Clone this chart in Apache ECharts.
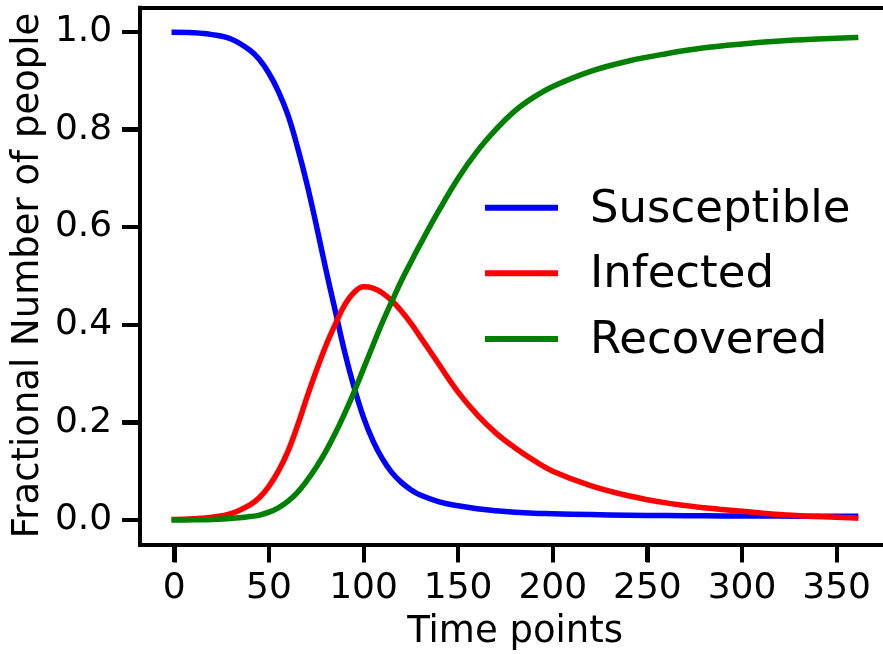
<!DOCTYPE html>
<html>
<head>
<meta charset="utf-8">
<script src="https://cdn.jsdelivr.net/npm/echarts@6/dist/echarts.min.js"></script>
<style>
  html, body { margin: 0; padding: 0; background: #ffffff; }
  #chart { width: 883px; height: 654px; }
</style>
</head>
<body>
<div id="chart"></div>
<script>
// SIR epidemic curves: fraction of the population in each compartment over time
const timePoints = [0, 10, 20, 30, 40, 45, 50, 55, 60, 65, 70, 75, 80, 85, 90, 95, 100, 105, 110, 115, 120, 125, 130, 140, 150, 160, 170, 180, 190, 200, 220, 240, 260, 280, 300, 320, 340, 360];
const susceptible = [0.999, 0.998, 0.994, 0.985, 0.962, 0.943, 0.915, 0.878, 0.83, 0.765, 0.69, 0.605, 0.515, 0.43, 0.345, 0.272, 0.21, 0.162, 0.125, 0.097, 0.077, 0.062, 0.051, 0.037, 0.029, 0.023, 0.019, 0.016, 0.014, 0.013, 0.011, 0.0098, 0.009, 0.0085, 0.0082, 0.008, 0.0078, 0.0077];
const infected = [0.001, 0.0025, 0.0055, 0.013, 0.031, 0.046, 0.069, 0.10, 0.14, 0.192, 0.25, 0.305, 0.356, 0.40, 0.44, 0.466, 0.4775, 0.475, 0.465, 0.449, 0.428, 0.403, 0.375, 0.318, 0.262, 0.216, 0.178, 0.148, 0.122, 0.10, 0.0705, 0.0497, 0.035, 0.025, 0.018, 0.011, 0.007, 0.004];
const recovered = [0, 0.0003, 0.001, 0.003, 0.007, 0.010, 0.016, 0.025, 0.038, 0.056, 0.08, 0.108, 0.14, 0.177, 0.218, 0.262, 0.31, 0.358, 0.405, 0.448, 0.49, 0.528, 0.565, 0.635, 0.70, 0.755, 0.80, 0.838, 0.866, 0.888, 0.919, 0.940, 0.955, 0.967, 0.975, 0.981, 0.985, 0.988];

const xTicks = [0, 50, 100, 150, 200, 250, 300, 350];
const yTicks = [0.0, 0.2, 0.4, 0.6, 0.8, 1.0];

const seriesNames = ['Susceptible', 'Infected', 'Recovered'];
const seriesColors = ['#0000ff', '#ff0000', '#008000'];
const seriesValues = [susceptible, infected, recovered];

const xTitle = 'Time points';
const yTitle = 'Fractional Number of people';

const FONT = 'DejaVu Sans';
const TICK_LEN = 18;
const TICK_WIDTH = 4;

function pairs(values) {
  return timePoints.map((t, i) => [t, values[i]]);
}

const spine = { show: true, onZero: false, lineStyle: { color: '#000000', width: 4, cap: 'square' } };
const tickStyle = { show: true, inside: false, length: TICK_LEN, lineStyle: { color: '#000000', width: TICK_WIDTH } };

// visible data window (the right frame edge lies just past the canvas)
const X_RANGE = [-18, 374.5];
const Y_RANGE = [-0.05, 1.049];

// axis titles
const titleGraphics = [
  {
    type: 'text',
    x: 515.1,
    y: 632.3,
    style: {
      text: xTitle,
      font: '37px "DejaVu Sans"',
      fill: '#000000',
      textAlign: 'center',
      textVerticalAlign: 'middle'
    }
  },
  {
    type: 'text',
    x: 28,
    y: 275.5,
    rotation: Math.PI / 2,
    style: {
      text: yTitle,
      font: '37px "DejaVu Sans"',
      fill: '#000000',
      textAlign: 'center',
      textVerticalAlign: 'middle'
    }
  }
];

// key: a short coloured stroke and the series name, one row per series
const KEY_LEFT = 485;
const KEY_LINE_LEN = 73;
const KEY_TEXT_LEFT = 590;
const KEY_ROW_CENTERS = [207.7, 273.3, 339];
const keyGraphics = [];
seriesNames.forEach((name, k) => {
  const cy = KEY_ROW_CENTERS[k];
  keyGraphics.push({
    type: 'rect',
    silent: true,
    shape: { x: KEY_LEFT, y: cy - 3, width: KEY_LINE_LEN, height: 6 },
    style: { fill: seriesColors[k] }
  });
  keyGraphics.push({
    type: 'text',
    silent: true,
    x: KEY_TEXT_LEFT,
    y: cy + 2.5,
    style: {
      text: name,
      font: '45px "DejaVu Sans"',
      fill: '#000000',
      textAlign: 'left',
      textVerticalAlign: 'middle'
    }
  });
});

const chart = echarts.init(document.getElementById('chart'), null, { renderer: 'canvas' });

const option = {
  animation: false,
  backgroundColor: '#ffffff',
  grid: {
    left: 140.2,
    right: 0,
    top: 7.8,
    bottom: 109.6,
    show: false
  },
  xAxis: [
    {
      type: 'value',
      position: 'bottom',
      min: X_RANGE[0],
      max: X_RANGE[1],
      splitLine: { show: false },
      axisLine: spine,
      axisTick: Object.assign({ customValues: xTicks }, tickStyle),
      axisLabel: {
        fontFamily: FONT,
        fontSize: 36,
        color: '#000000',
        margin: 26,
        customValues: xTicks
      }
    },
    {
      // top frame line
      type: 'value',
      position: 'top',
      min: X_RANGE[0],
      max: X_RANGE[1],
      splitLine: { show: false },
      axisLine: spine,
      axisTick: { show: false },
      axisLabel: { show: false }
    }
  ],
  yAxis: {
    type: 'value',
    min: Y_RANGE[0],
    max: Y_RANGE[1],
    splitLine: { show: false },
    axisLine: spine,
    axisTick: Object.assign({ customValues: yTicks }, tickStyle),
    axisLabel: {
      fontFamily: FONT,
      fontSize: 36,
      color: '#000000',
      margin: 28,
      customValues: yTicks,
      formatter: v => v.toFixed(1)
    }
  },
  graphic: titleGraphics.concat(keyGraphics),
  series: seriesNames.map((name, k) => ({
    name: name,
    type: 'line',
    xAxisIndex: 0,
    data: pairs(seriesValues[k]),
    showSymbol: false,
    smooth: 0.4,
    color: seriesColors[k],
    lineStyle: { color: seriesColors[k], width: 5.5, cap: 'square', join: 'round' }
  }))
};

chart.setOption(option);

// outward tick marks on the bottom and left frame, placed through the axis scales
const frameBottom = Math.round(chart.convertToPixel({ yAxisIndex: 0 }, Y_RANGE[0]));
const frameLeft = Math.round(chart.convertToPixel({ xAxisIndex: 0 }, X_RANGE[0]));
const tickLine = (x1, y1, x2, y2) => ({
  type: 'line',
  silent: true,
  z: 10,
  shape: { x1: x1, y1: y1, x2: x2, y2: y2 },
  style: { stroke: '#000000', lineWidth: TICK_WIDTH, lineCap: 'butt' }
});
const xTickMarks = xTicks.map(v => {
  const px = Math.round(chart.convertToPixel({ xAxisIndex: 0 }, v));
  return tickLine(px, frameBottom, px, frameBottom + TICK_LEN);
});
const yTickMarks = yTicks.map(v => {
  const py = Math.round(chart.convertToPixel({ yAxisIndex: 0 }, v));
  return tickLine(frameLeft - TICK_LEN, py, frameLeft, py);
});

chart.setOption({ graphic: titleGraphics.concat(keyGraphics, xTickMarks, yTickMarks) });
</script>
</body>
</html>
